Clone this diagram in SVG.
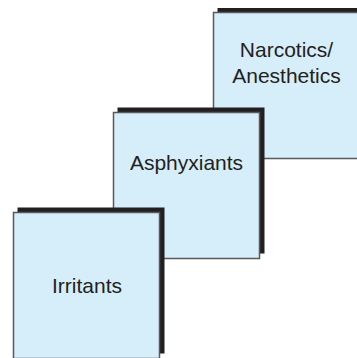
<svg xmlns="http://www.w3.org/2000/svg" width="357" height="358" viewBox="0 0 357 358">
<style>
.sh{fill:#231f20}
.bx{fill:#d6edfa;stroke:#58595b;stroke-width:1.5}
.t{font-family:"Liberation Sans",Arial,sans-serif;font-size:21px;fill:#231f20;text-anchor:middle}
</style>
<rect width="357" height="358" fill="#ffffff"/>
<g id="narcotics">
<rect class="sh" x="217.5" y="8" width="146" height="146"/>
<rect class="bx" x="213.5" y="12.5" width="146" height="146"/>
<text class="t" x="286.5" y="57">Narcotics/</text>
<text class="t" x="286.5" y="82.5">Anesthetics</text>
</g>
<g id="asphyxiants">
<rect class="sh" x="117.5" y="107.5" width="147" height="146"/>
<rect class="bx" x="113.5" y="112.5" width="146" height="146"/>
<text class="t" x="186.5" y="169.5">Asphyxiants</text>
</g>
<g id="irritants">
<rect class="sh" x="17.5" y="207.5" width="147" height="146"/>
<rect class="bx" x="13.5" y="212.5" width="146" height="146"/>
<text class="t" x="87" y="292.5">Irritants</text>
</g>
<g id="connectors"></g>
</svg>
